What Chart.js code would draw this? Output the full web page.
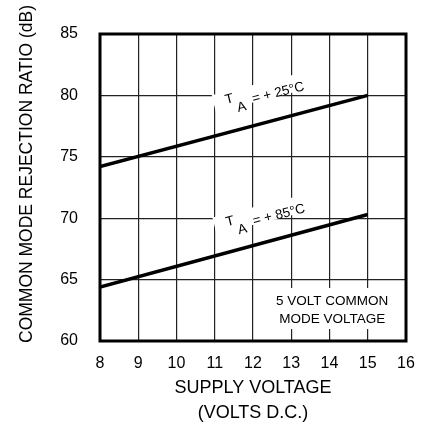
<!DOCTYPE html>
<html>
<head>
<meta charset="utf-8">
<script src="https://cdn.jsdelivr.net/npm/chart.js@4"></script>
<style>
  html, body { margin: 0; padding: 0; background: #fff; }
  #wrap { width: 428px; height: 426px; }
</style>
</head>
<body>
<div id="wrap"><canvas id="cmrr"></canvas></div>
<script>
// supply voltage (V) where the curves start and end
var supplyVolts = [8, 15];
// CMRR in dB at each end of the curve
var cmrr25 = [74.2, 80.0];
var cmrr85 = [64.4, 70.3];
// axis range / ticks
var xTicks = [8, 9, 10, 11, 12, 13, 14, 15, 16];
var yTicks = [60, 65, 70, 75, 80, 85];
// where the "T A = ..." labels sit, in data units (volts, dB)
var labelTemps = ['+ 25°C', '+ 85°C'];
var labelAt = [[11.3, 79.3], [11.32, 69.35]];
// note box text and centre (volts, dB)
var noteLines = ['5 VOLT COMMON', 'MODE VOLTAGE'];
var noteAt = [14.07, 62.52];

var FONT = '"Liberation Sans", Arial, Helvetica, sans-serif';

function toPoints(xs, ys) {
    var pts = [];
    for (var i = 0; i < xs.length; i++) pts.push({x: xs[i], y: ys[i]});
    return pts;
}

// labels, note box, frame and the y title
var extras = {
    id: 'extras',
    afterDatasetsDraw: function(chart) {
        var ctx = chart.ctx;
        var xs = chart.scales.x, ys = chart.scales.y;
        var a = chart.chartArea;
        var ang = 14 * Math.PI / 180;

        ctx.save();
        ctx.fillStyle = '#000';
        ctx.textBaseline = 'alphabetic';
        ctx.textAlign = 'left';
        ctx.font = '13.5px ' + FONT;
        for (var i = 0; i < labelAt.length; i++) {
            var px = xs.getPixelForValue(labelAt[i][0]);
            var py = ys.getPixelForValue(labelAt[i][1]);
            ctx.save();
            ctx.translate(px, py);
            ctx.rotate(-ang);
            ctx.fillStyle = '#fff';
            ctx.fillRect(-12, -12, 95, 17);
            ctx.fillStyle = '#000';
            ctx.fillText('T', 0, 0);
            ctx.fillText('A', 9.7, 10.7);
            ctx.fillText('= ' + labelTemps[i], 26.4, 5.5);
            ctx.restore();
        }

        // note box
        var nx = xs.getPixelForValue(noteAt[0]);
        var ny = ys.getPixelForValue(noteAt[1]);
        ctx.fillStyle = '#fff';
        ctx.fillRect(nx - 70, ny - 22, 138, 41);
        ctx.fillStyle = '#000';
        ctx.textAlign = 'center';
        ctx.textBaseline = 'middle';
        ctx.font = '13.5px ' + FONT;
        ctx.fillText(noteLines[0], nx, ny - 8.5);
        ctx.fillText(noteLines[1], nx, ny + 9);

        // heavy frame
        ctx.lineWidth = 3;
        ctx.strokeStyle = '#000';
        ctx.strokeRect(a.left, a.top, a.right - a.left, a.bottom - a.top);

        // y axis title
        ctx.translate(27, 174);
        ctx.rotate(-Math.PI / 2);
        ctx.font = '17.5px ' + FONT;
        ctx.fillText('COMMON MODE REJECTION RATIO (dB)', 0, 0);
        ctx.restore();
    }
};

new Chart(document.getElementById('cmrr'), {
    type: 'scatter',
    data: {
        datasets: [
            {
                label: 'TA = +25°C',
                data: toPoints(supplyVolts, cmrr25),
                showLine: true,
                borderColor: '#000',
                borderWidth: 3.5,
                pointRadius: 0,
                fill: false
            },
            {
                label: 'TA = +85°C',
                data: toPoints(supplyVolts, cmrr85),
                showLine: true,
                borderColor: '#000',
                borderWidth: 3.5,
                pointRadius: 0,
                fill: false
            }
        ]
    },
    options: {
        responsive: true,
        maintainAspectRatio: false,
        animation: false,
        layout: { padding: { top: 34, right: 22, left: 0, bottom: 0 } },
        plugins: {
            legend: { display: false },
            tooltip: { enabled: false }
        },
        scales: {
            x: {
                type: 'linear',
                min: xTicks[0],
                max: xTicks[xTicks.length - 1],
                afterBuildTicks: function(s) {
                    s.ticks = xTicks.map(function(v) { return {value: v}; });
                },
                afterFit: function(s) { s.height = 85; },
                grid: { color: '#222', lineWidth: 1.2, drawTicks: false },
                border: { display: false },
                ticks: {
                    color: '#000',
                    padding: 13,
                    maxRotation: 0,
                    font: { family: FONT, size: 16 }
                },
                title: {
                    display: true,
                    text: ['SUPPLY VOLTAGE', '(VOLTS D.C.)'],
                    color: '#000',
                    padding: { top: 0, bottom: 0 },
                    font: { family: FONT, size: 18, lineHeight: 1.42 }
                }
            },
            y: {
                type: 'linear',
                min: yTicks[0],
                max: yTicks[yTicks.length - 1],
                afterBuildTicks: function(s) {
                    s.ticks = yTicks.map(function(v) { return {value: v}; });
                },
                afterFit: function(s) { s.width = 100; },
                grid: { color: '#222', lineWidth: 1.2, drawTicks: false },
                border: { display: false },
                ticks: {
                    color: '#000',
                    padding: 22,
                    font: { family: FONT, size: 16 }
                }
            }
        }
    },
    plugins: [extras]
});
</script>
</body>
</html>
